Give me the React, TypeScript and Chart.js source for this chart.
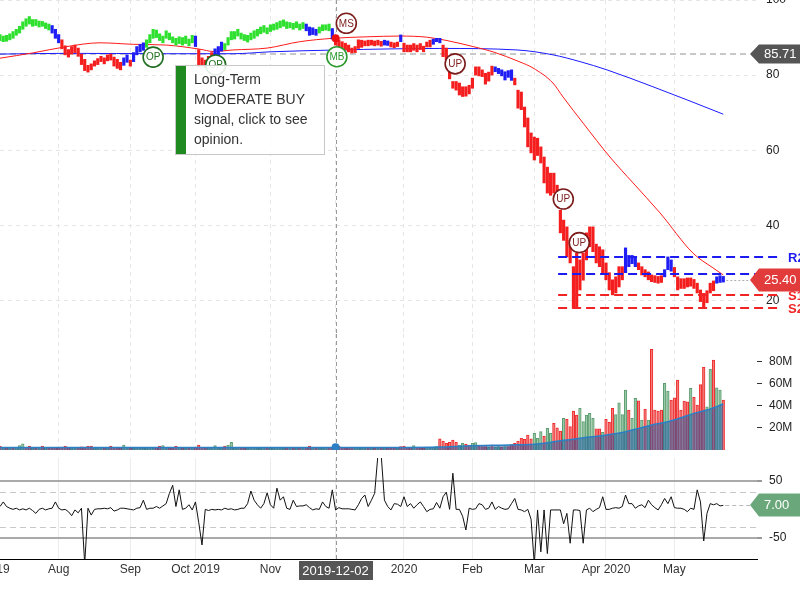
import React, { useEffect, useRef } from "react";
import { Chart, registerables } from "chart.js";

Chart.register(...registerables);

const FONT = '"Liberation Sans", Arial, Helvetica, sans-serif';

// ---------- x axis (trading-day index) ----------
const X_MIN = 0;
const X_MAX = 232.35;
const monthTicks = [-4, 18, 40, 60, 83, 103, 124, 145, 164, 186, 207];
const monthLabels = ["Jul 2019", "Aug", "Sep", "Oct 2019", "Nov", "Dec", "2020", "Feb", "Mar", "Apr 2020", "May"];

// ---------- price panel ----------
const priceTicks = [20, 40, 60, 80, 100];
const priceLow = [
  89.2, 88.9, 89.0, 89.4, 89.8, 90.6, 91.2, 92.2, 93.0, 93.6,
  93.0, 93.2, 92.8, 93.0, 92.4, 92.0, 91.2, 89.8, 88.6, 87.0,
  85.4, 84.8, 85.6, 86.0, 85.0, 82.8, 81.2, 80.8, 81.4, 82.4,
  82.8, 83.6, 83.0, 83.8, 84.0, 82.4, 81.8, 81.4, 82.6, 83.4,
  82.4, 83.6, 85.4, 86.2, 86.6, 87.4, 88.6, 89.8, 90.0, 89.2,
  88.6, 89.8, 89.4, 88.6, 88.0, 88.4, 88.0, 88.4, 87.8, 88.6,
  87.6, 82.2, 82.4, 82.0, 83.0, 84.2, 84.8, 85.4, 86.4, 86.8,
  88.0, 89.4, 89.6, 90.4, 89.6, 89.2, 88.8, 89.4, 89.8, 90.4,
  91.0, 91.4, 91.0, 91.6, 92.0, 92.2, 92.6, 93.0, 92.4, 92.6,
  92.2, 92.6, 92.0, 92.4, 91.8, 90.6, 90.8, 90.6, 91.2, 91.8,
  92.0, 91.8, 89.6, 88.0, 87.4, 87.1, 86.7, 86.2, 85.9, 86.0,
  87.1, 87.4, 87.8, 87.8, 88.0, 87.8, 88.0, 87.7, 88.0, 87.9,
  87.5, 87.3, 87.6, 88.9, 86.2, 86.2, 86.2, 86.6, 86.2, 86.8,
  86.2, 87.5, 87.5, 88.2, 88.9, 88.6, 84.9, 84.0, 79.0, 76.5,
  76.0, 74.7, 74.3, 74.4, 75.0, 76.5, 80.0, 79.8, 79.6, 77.6,
  78.4, 80.0, 80.9, 80.4, 79.8, 78.7, 79.4, 78.6, 77.4, 71.2,
  70.8, 66.2, 60.9, 59.3, 57.4, 58.6, 56.6, 51.3, 48.6, 48.0,
  48.6, 46.7, 38.0, 36.0, 31.6, 30.0, 18.0, 18.0, 22.8, 25.4,
  30.8, 34.3, 33.0, 30.0, 29.0, 27.4, 25.5, 22.8, 21.5, 22.0,
  23.6, 25.5, 27.4, 29.0, 29.8, 29.0, 28.2, 26.8, 26.3, 25.5,
  25.0, 24.8, 24.6, 24.8, 26.3, 28.2, 27.8, 26.3, 22.8, 23.2,
  23.2, 23.6, 23.8, 23.2, 22.0, 19.7, 18.0, 19.4, 22.0, 22.6,
  24.6, 24.8, 24.9,
];
const priceHigh = [
  90.8, 90.4, 90.6, 91.0, 91.6, 92.2, 93.0, 94.2, 95.0, 95.6,
  94.8, 94.8, 94.4, 94.3, 93.9, 93.6, 93.2, 92.2, 90.8, 89.4,
  87.8, 86.8, 87.6, 88.0, 87.2, 85.6, 84.2, 82.6, 83.0, 83.8,
  84.4, 85.0, 84.6, 85.4, 85.6, 84.8, 84.2, 83.4, 84.6, 85.4,
  84.0, 86.0, 87.6, 88.2, 88.6, 89.4, 90.8, 92.2, 92.0, 91.0,
  90.4, 91.8, 91.2, 90.2, 89.8, 90.2, 90.0, 90.4, 89.6, 90.6,
  90.4, 86.8, 84.6, 84.0, 85.0, 86.0, 87.0, 87.6, 88.8, 88.4,
  90.0, 91.6, 91.6, 92.2, 91.2, 90.8, 90.6, 91.2, 91.8, 92.2,
  92.8, 93.2, 92.6, 93.4, 93.6, 94.0, 94.4, 94.7, 94.2, 94.0,
  93.8, 94.2, 93.6, 94.0, 93.6, 92.8, 92.6, 92.2, 92.8, 93.4,
  93.4, 93.6, 92.4, 89.9, 89.4, 88.9, 88.5, 88.0, 87.2, 87.6,
  89.4, 89.3, 89.1, 89.3, 89.3, 89.1, 89.3, 89.0, 89.3, 89.1,
  88.8, 88.6, 88.8, 90.7, 88.5, 88.0, 88.0, 88.4, 88.0, 88.4,
  87.7, 88.8, 89.3, 89.6, 89.8, 89.8, 88.0, 87.2, 83.5, 78.3,
  78.3, 77.9, 76.9, 76.9, 77.3, 79.2, 82.2, 82.2, 81.4, 80.5,
  80.8, 82.4, 82.2, 81.8, 81.4, 80.9, 81.2, 81.4, 79.2, 76.0,
  75.5, 71.5, 68.6, 64.6, 63.5, 63.2, 60.9, 58.2, 55.5, 53.9,
  53.9, 50.7, 44.0, 41.4, 39.6, 36.0, 29.0, 32.6, 30.8, 32.6,
  38.0, 39.6, 39.6, 35.0, 34.3, 33.5, 30.0, 27.4, 25.5, 26.3,
  29.0, 29.0, 34.0, 32.0, 32.0, 31.6, 30.0, 29.0, 28.2, 27.6,
  26.8, 26.6, 26.4, 26.6, 28.2, 31.6, 30.8, 28.8, 26.3, 25.8,
  25.8, 26.0, 26.0, 25.6, 24.6, 22.8, 21.9, 22.6, 24.6, 25.2,
  26.3, 26.6, 26.4,
];
// runs of bar colour codes: G = bullish, B = neutral, R = bearish
const trendRuns: [number, string][] = [
  [16, "G"], [3, "B"], [19, "R"], [2, "B"], [1, "R"], [4, "B"], [15, "G"], [1, "B"], [5, "R"], [3, "B"],
  [25, "G"], [4, "B"], [4, "G"], [1, "B"], [15, "R"], [2, "B"], [3, "R"], [1, "B"], [9, "R"], [3, "B"],
  [16, "R"], [6, "B"], [34, "R"], [4, "B"], [8, "R"], [3, "B"], [13, "R"], [3, "B"],
];
const redMA: [number, number][] = [
  [0, 84.5], [10, 85.9], [20.5, 87.6], [30.7, 88.6], [41, 88.2], [51, 88.0], [61.4, 86.9], [65.4, 86.3],
  [71.5, 86.7], [82, 87.2], [92, 88.9], [102.2, 89.8], [112.6, 90.2], [122.8, 90.4], [131, 90.1],
  [137.2, 89.2], [145.2, 87.6], [151.3, 86.2], [159.6, 83.5], [163.6, 81.9], [169.7, 77.9], [172.8, 74.2],
  [179, 67.2], [187.2, 58.2], [194.3, 51.3], [202.6, 43.3], [212.7, 32.6], [218.8, 28.7], [222, 26.8],
];
const blueMA: [number, number][] = [
  [0, 85.6], [20.6, 85.8], [51, 85.7], [71.6, 85.7], [82.9, 86.2], [103.7, 86.7], [135, 87.1],
  [158.7, 86.7], [169.7, 85.4], [178, 83.6], [186.3, 81.4], [200.4, 76.9], [210.9, 73.4], [222, 69.6],
];
const refPrice = 85.71;
const lastPrice = 25.4;
const levelValues = [31.7, 27.0, 21.5, 17.9];
const levelNames = ["R2", "R1", "S1", "S2"];
const levelColors = ["#1c1cf0", "#1c1cf0", "#f02424", "#f02424"];
const levelStart = 171.3;
const levelEnd = 239.4;
const signalMarkers = [
  { i: 47, p: 84.8, text: "OP", color: "#1f6e1f" },
  { i: 66.2, p: 82.7, text: "OP", color: "#1f6e1f" },
  { i: 103.4, p: 84.9, text: "MB", color: "#2f9a2f" },
  { i: 106.3, p: 93.8, text: "MS", color: "#7b1c1c" },
  { i: 139.7, p: 83.0, text: "UP", color: "#7b1c1c" },
  { i: 172.9, p: 47.0, text: "UP", color: "#7b1c1c" },
  { i: 177.8, p: 35.4, text: "UP", color: "#7b1c1c" },
];
const crossIndex = 103;
const crossLabel = "2019-12-02";
const crossPrice = 89.8;
const crossVolume = 2.5;

// ---------- volume panel (millions) ----------
const volumeTicks = [20, 40, 60, 80];
const volume = [
  3.5, 2.0, 2.2, 1.8, 2.0, 2.3, 4.0, 5.5, 2.5, 3.5,
  2.0, 1.8, 2.2, 3.5, 2.0, 1.6, 2.0, 2.4, 2.2, 2.6,
  3.5, 2.5, 2.2, 2.0, 2.4, 2.8, 2.6, 3.5, 3.5, 2.2,
  2.0, 2.2, 1.8, 2.2, 3.5, 2.5, 2.2, 2.0, 4.5, 2.0,
  1.8, 2.0, 2.2, 1.8, 2.0, 2.2, 2.0, 1.8, 2.2, 3.5,
  4.0, 2.0, 2.2, 2.0, 3.5, 2.2, 2.0, 1.8, 2.0, 2.2,
  2.5, 4.5, 2.5, 2.0, 2.2, 2.0, 4.0, 2.0, 2.2, 3.5,
  4.5, 7.0, 2.5, 2.2, 2.0, 1.8, 2.0, 2.2, 2.0, 1.8,
  2.0, 2.2, 2.0, 1.8, 2.0, 2.2, 1.8, 2.0, 2.2, 2.0,
  1.8, 2.0, 2.2, 2.0, 2.2, 3.5, 2.2, 2.0, 1.8, 2.0,
  2.2, 2.0, 2.4, 2.6, 3.5, 2.2, 2.0, 2.4, 2.2, 2.0,
  2.2, 2.0, 1.8, 2.0, 2.2, 2.0, 1.8, 2.0, 2.2, 2.0,
  1.8, 1.6, 1.8, 3.0, 3.6, 2.5, 2.4, 4.0, 2.4, 2.0,
  1.8, 2.4, 1.8, 2.4, 3.0, 10.0, 8.0, 6.0, 7.0, 9.0,
  7.0, 4.5, 6.0, 5.0, 4.5, 6.0, 6.6, 4.0, 3.0, 3.0,
  2.5, 3.0, 2.5, 3.0, 2.5, 3.0, 3.0, 4.5, 6.0, 8.0,
  10.5, 9.6, 13.5, 10.0, 15.0, 10.5, 16.5, 12.6, 19.5, 15.0,
  24.0, 20.0, 17.0, 28.5, 27.6, 21.0, 35.0, 31.5, 37.5, 25.5,
  31.5, 33.0, 28.5, 19.0, 19.0, 16.0, 27.6, 25.0, 37.5, 32.0,
  42.6, 32.0, 54.0, 36.0, 28.5, 46.5, 44.4, 27.0, 36.6, 27.0,
  90.7, 36.0, 35.0, 36.0, 60.0, 53.0, 45.0, 47.0, 63.0, 36.0,
  44.0, 43.5, 55.5, 47.4, 40.5, 59.0, 74.5, 39.0, 73.0, 81.0,
  56.0, 54.0, 45.0,
];
const volumeDir = [
  "rgrgrgggrr", "grgrgrrrrr", "rrggrrrrrg", "ggrgrrrrgg", "rgggggggrr",
  "ggrrrgrgrg", "rrrrgggggr", "ggggrrgggg", "ggrgggggrg", "rgrgrrgrgg",
  "grrrrrrrrg", "gggrgrgrgr", "rrgrrrrgrr", "rggggrrrrr", "rggrrggrrr",
  "grggrgrrrr", "rrrrgggrgg", "rrrgrrrrgg", "gggrrgrrrg", "gggrggrgrg",
  "rrrrggrrrr", "rrgrrrrggr", "ggr",
].join("");
const volumeMA: [number, number][] = [
  [0, 2.2], [120, 2.2], [135, 2.6], [143, 3.6], [156, 4.5], [164, 5.1], [167, 6], [172, 8.4],
  [176, 9.6], [180, 11.4], [184, 12.6], [188, 14.4], [192, 16.5], [196, 19.5], [200, 22.5],
  [205, 25.5], [209, 29], [213, 33], [217, 36], [222, 41.4],
];

// ---------- oscillator panel ----------
const oscTicks = [-50, 50];
const oscBands = [-30, 30];
const oscillator = [
  5, 13, 5, 2, 0, 2, -1, 1, -1, 2,
  -2, -7, 0, 2, -1, 1, 2, 13, 2, -1,
  0, -4, -11, -1, -6, 2, -95, 2, -10, 0,
  1, 1, 2, 1, 3, -3, -1, 2, 2, 1,
  0, -1, 2, 3, 16, 0, 2, 2, 5, 2,
  6, 10, 28, 42, 5, 34, 0, 2, 8, -1,
  13, -23, -62, 0, -2, 0, -1, 0, -1, 2,
  0, 1, -1, 0, 2, 2, 10, 32, 16, 8,
  2, 10, 29, 8, 2, 37, 16, 22, 2, 0,
  16, 5, 6, 6, 8, 3, -1, 1, 0, 13,
  5, 2, 34, -1, 3, 1, 1, 1, 0, -1,
  8, 19, 25, 5, 16, 28, 95, 95, 16, 5,
  -1, 10, 9, 5, 22, 5, 10, 2, 8, 13,
  5, -4, 0, 1, 12, 2, 22, 30, 0, 63,
  0, 0, -12, -36, 2, 0, 1, 10, 8, 0,
  2, 13, 0, 5, 2, 0, 1, 10, 19, 0,
  -1, -4, 0, -17, -95, -1, -74, -1, -77, -1,
  -1, -1, -1, -25, -7, -59, -1, -1, -2, -59,
  -1, 2, -4, 0, 3, 22, 0, 0, 2, 3,
  2, 5, 25, 10, 10, 2, 6, 8, 3, 16,
  8, 3, -1, 8, 19, 10, 22, 3, 2, 2,
  0, -4, 2, 0, 34, 13, -55, -7, 10, 8,
  10, 6, 7,
];
const lastOsc = 7.0;

// ---------- layout constants ----------
const PRICE_H = 334;
const PRICE_MAX = 100;
const PRICE_MIN = 100 - PRICE_H / 3.756;
const VOL_H = 116;
const VOL_MAX = VOL_H / 1.11;
const OSC_TOP_PAD = 8;
const OSC_PLOT_H = 101;
const OSC_AXIS_H = 31;
const OSC_MAX = 89.5;
const OSC_MIN = OSC_MAX - OSC_PLOT_H / 0.574;
const TAG_X = 750;

const trendColor: Record<string, string> = { G: "#2fe02f", B: "#1e1ef5", R: "#f51e1e" };

function expandRuns(runs: [number, string][]) {
  const out: string[] = [];
  runs.forEach(([n, c]) => { for (let k = 0; k < n; k++) out.push(c); });
  return out;
}

function monthLabel(v: number) {
  const k = monthTicks.indexOf(v);
  return k >= 0 ? monthLabels[k] : "";
}

function xScale(show: boolean, gridColor: string, dash: number[]) {
  return {
    type: "linear",
    min: X_MIN,
    max: X_MAX,
    offset: false,
    afterBuildTicks: (s: any) => { s.ticks = monthTicks.map((v) => ({ value: v })); },
    afterFit: (s: any) => { s.paddingLeft = 0; s.paddingRight = 0; s.height = show ? OSC_AXIS_H : 0; },
    grid: { color: gridColor, drawTicks: false, offset: false },
    border: { display: show, color: "#000", width: 1, dash },
    ticks: {
      display: show, autoSkip: false, maxRotation: 0, minRotation: 0, padding: 3, color: "#333",
      font: { family: FONT, size: 12 }, callback: (v: any) => monthLabel(v),
    },
  };
}

function yFit(s: any) { s.width = 43; s.paddingTop = 0; s.paddingBottom = 0; }

function drawTag(ctx: CanvasRenderingContext2D, yc: number, h: number, text: string, bg: string) {
  ctx.save();
  ctx.setLineDash([]);
  ctx.fillStyle = bg;
  ctx.beginPath();
  ctx.moveTo(TAG_X, yc);
  ctx.lineTo(TAG_X + 9, yc - h / 2);
  ctx.lineTo(800, yc - h / 2);
  ctx.lineTo(800, yc + h / 2);
  ctx.lineTo(TAG_X + 9, yc + h / 2);
  ctx.closePath();
  ctx.fill();
  ctx.fillStyle = "#fff";
  ctx.font = `13px ${FONT}`;
  ctx.textAlign = "left";
  ctx.textBaseline = "middle";
  ctx.fillText(text, 764, yc + 0.5);
  ctx.restore();
}

function drawCross(chart: any, bottom: number) {
  const { ctx, scales } = chart;
  const cx = Math.round(scales.x.getPixelForValue(crossIndex)) + 0.5;
  ctx.save();
  ctx.strokeStyle = "#999";
  ctx.lineWidth = 1;
  ctx.setLineDash([4, 3]);
  ctx.beginPath();
  ctx.moveTo(cx, 0);
  ctx.lineTo(cx, bottom);
  ctx.stroke();
  ctx.restore();
}

const baseOptions = {
  responsive: false,
  maintainAspectRatio: false,
  animation: false,
  events: [],
  plugins: { legend: { display: false }, tooltip: { enabled: false } },
};

function makePrice(canvas: HTMLCanvasElement) {
  const trend = expandRuns(trendRuns);
  const plugin = {
    id: "priceDecor",
    beforeDatasetsDraw(chart: any) {
      const { ctx, chartArea, scales } = chart;
      const ry = Math.round(scales.y.getPixelForValue(refPrice));
      ctx.save();
      ctx.strokeStyle = "#c8c8c8";
      ctx.lineWidth = 2;
      ctx.setLineDash([6, 4]);
      ctx.beginPath();
      ctx.moveTo(chartArea.left, ry);
      ctx.lineTo(TAG_X, ry);
      ctx.stroke();
      ctx.restore();
      drawCross(chart, chart.height);
    },
    afterDatasetsDraw(chart: any) {
      const { ctx, scales } = chart;
      const { x, y } = scales;
      ctx.save();
      const ly = Math.round(y.getPixelForValue(lastPrice)) + 0.5;
      ctx.strokeStyle = "#b0b0b0";
      ctx.lineWidth = 1;
      ctx.setLineDash([2, 2]);
      ctx.beginPath();
      ctx.moveTo(x.getPixelForValue(priceLow.length - 1) + 3, ly);
      ctx.lineTo(TAG_X, ly);
      ctx.stroke();
      levelValues.forEach((v, k) => {
        const yy = Math.round(y.getPixelForValue(v));
        ctx.strokeStyle = levelColors[k];
        ctx.lineWidth = 2;
        ctx.setLineDash([9, 5]);
        ctx.beginPath();
        ctx.moveTo(x.getPixelForValue(levelStart), yy);
        ctx.lineTo(x.getPixelForValue(levelEnd), yy);
        ctx.stroke();
        ctx.fillStyle = levelColors[k];
        ctx.font = `bold 13px ${FONT}`;
        ctx.textAlign = "left";
        ctx.textBaseline = "middle";
        ctx.fillText(levelNames[k], 788, yy + 1);
      });
      ctx.setLineDash([]);
      signalMarkers.forEach((m) => {
        const px = x.getPixelForValue(m.i);
        const py = y.getPixelForValue(m.p);
        ctx.beginPath();
        ctx.arc(px, py, 10, 0, Math.PI * 2);
        ctx.fillStyle = "#fff";
        ctx.fill();
        ctx.lineWidth = 1.6;
        ctx.strokeStyle = m.color;
        ctx.stroke();
        ctx.fillStyle = m.color;
        ctx.font = `10px ${FONT}`;
        ctx.textAlign = "center";
        ctx.textBaseline = "middle";
        ctx.fillText(m.text, px, py + 0.5);
      });
      ctx.restore();
    },
    afterDraw(chart: any) {
      const { y } = chart.scales;
      drawTag(chart.ctx, Math.round(y.getPixelForValue(refPrice)), 19, refPrice.toFixed(2), "#555555");
      drawTag(chart.ctx, Math.round(y.getPixelForValue(lastPrice)), 23, lastPrice.toFixed(2), "#e23b3b");
    },
  };
  return new Chart(canvas, {
    type: "bar",
    data: {
      datasets: [
        {
          type: "bar",
          data: priceLow.map((lo, i) => ({ x: i, y: [lo, priceHigh[i]] })),
          backgroundColor: priceLow.map((_, i) => trendColor[trend[i]] || trendColor.R),
          borderWidth: 0,
          barThickness: 2.5,
          order: 1,
        },
        {
          type: "line",
          data: redMA.map(([i, v]) => ({ x: i, y: v })),
          borderColor: "#ff1a1a",
          borderWidth: 1,
          pointRadius: 0,
          cubicInterpolationMode: "monotone",
          order: 2,
        },
        {
          type: "line",
          data: blueMA.map(([i, v]) => ({ x: i, y: v })),
          borderColor: "#1a1aff",
          borderWidth: 1,
          pointRadius: 0,
          cubicInterpolationMode: "monotone",
          order: 3,
        },
        {
          type: "scatter",
          data: [{ x: crossIndex, y: crossPrice }],
          pointRadius: 4,
          pointBackgroundColor: "#ee1111",
          pointBorderWidth: 0,
          order: 0,
        },
      ],
    },
    options: {
      ...baseOptions,
      layout: { padding: 0, autoPadding: false },
      scales: {
        x: xScale(false, "#e6e6e6", [4, 4]),
        y: {
          type: "linear",
          position: "right",
          min: PRICE_MIN,
          max: PRICE_MAX,
          afterBuildTicks: (s: any) => { s.ticks = priceTicks.map((v) => ({ value: v })); },
          afterFit: yFit,
          grid: { color: "#e6e6e6", drawTicks: false },
          border: { display: false, dash: [4, 4] },
          ticks: { padding: 9, color: "#222", font: { family: FONT, size: 12 }, callback: (v: any) => String(v) },
        },
      },
    },
    plugins: [plugin],
  } as any);
}

function makeVolume(canvas: HTMLCanvasElement) {
  const plugin = {
    id: "volDecor",
    beforeDatasetsDraw(chart: any) { drawCross(chart, chart.height); },
  };
  return new Chart(canvas, {
    type: "bar",
    data: {
      datasets: [
        {
          type: "bar",
          data: volume.map((v, i) => ({ x: i, y: v })),
          backgroundColor: volume.map((_, i) => (volumeDir[i] === "g" ? "#9acaa8" : "#f27c7c")),
          borderColor: volume.map((_, i) => (volumeDir[i] === "g" ? "#5c9c70" : "#ee2c2c")),
          borderWidth: 1,
          barThickness: 2.6,
          order: 2,
        },
        {
          type: "line",
          data: volumeMA.map(([i, v]) => ({ x: i, y: v })),
          borderColor: "#2c7fc4",
          borderWidth: 1.5,
          backgroundColor: "rgba(35,95,165,0.55)",
          fill: "origin",
          pointRadius: 0,
          cubicInterpolationMode: "monotone",
          order: 1,
        },
        {
          type: "scatter",
          data: [{ x: crossIndex, y: crossVolume }],
          pointRadius: 4,
          pointBackgroundColor: "#2c7fc4",
          pointBorderWidth: 0,
          order: 0,
        },
      ],
    },
    options: {
      ...baseOptions,
      layout: { padding: 0, autoPadding: false },
      scales: {
        x: xScale(false, "#e6e6e6", [4, 4]),
        y: {
          type: "linear",
          position: "right",
          min: 0,
          max: VOL_MAX,
          afterBuildTicks: (s: any) => { s.ticks = volumeTicks.map((v) => ({ value: v })); },
          afterFit: yFit,
          grid: { drawOnChartArea: false, drawTicks: true, tickLength: 5, tickColor: "#333", tickWidth: 1 },
          border: { display: false },
          ticks: { padding: 7, color: "#222", font: { family: FONT, size: 12 }, callback: (v: any) => `${v}M` },
        },
      },
    },
    plugins: [plugin],
  } as any);
}

function makeOsc(canvas: HTMLCanvasElement) {
  const plugin = {
    id: "oscDecor",
    beforeDatasetsDraw(chart: any) {
      const { ctx, chartArea, scales } = chart;
      ctx.save();
      ctx.strokeStyle = "#c8c8c8";
      ctx.lineWidth = 1;
      ctx.setLineDash([6, 4]);
      oscBands.forEach((v) => {
        const yy = Math.round(scales.y.getPixelForValue(v)) + 0.5;
        ctx.beginPath();
        ctx.moveTo(chartArea.left, yy);
        ctx.lineTo(chartArea.right, yy);
        ctx.stroke();
      });
      ctx.restore();
      drawCross(chart, chartArea.bottom);
    },
    afterDatasetsDraw(chart: any) {
      const { ctx, scales } = chart;
      const yy = Math.round(scales.y.getPixelForValue(lastOsc)) + 0.5;
      ctx.save();
      ctx.strokeStyle = "#b8b8b8";
      ctx.lineWidth = 1;
      ctx.setLineDash([4, 3]);
      ctx.beginPath();
      ctx.moveTo(scales.x.getPixelForValue(oscillator.length - 1) + 2, yy);
      ctx.lineTo(TAG_X, yy);
      ctx.stroke();
      ctx.restore();
    },
    afterDraw(chart: any) {
      const { ctx, chartArea, scales } = chart;
      drawTag(ctx, Math.round(scales.y.getPixelForValue(lastOsc)), 23, lastOsc.toFixed(2), "#6aa77b");
      const cx = scales.x.getPixelForValue(crossIndex);
      ctx.save();
      ctx.fillStyle = "#555555";
      ctx.fillRect(Math.round(cx - 37), chartArea.bottom + 2, 74, 19);
      ctx.fillStyle = "#fff";
      ctx.font = `13px ${FONT}`;
      ctx.textAlign = "center";
      ctx.textBaseline = "middle";
      ctx.fillText(crossLabel, cx, chartArea.bottom + 12);
      ctx.restore();
    },
  };
  return new Chart(canvas, {
    type: "line",
    data: {
      datasets: [
        {
          data: oscillator.map((v, i) => ({ x: i, y: v })),
          borderColor: "#111",
          borderWidth: 1,
          pointRadius: 0,
          tension: 0,
        },
      ],
    },
    options: {
      ...baseOptions,
      layout: { padding: { top: OSC_TOP_PAD, left: 0, right: 0, bottom: 0 }, autoPadding: false },
      scales: {
        x: xScale(true, "#ececec", []),
        y: {
          type: "linear",
          position: "right",
          min: OSC_MIN,
          max: OSC_MAX,
          afterBuildTicks: (s: any) => { s.ticks = oscTicks.map((v) => ({ value: v })); },
          afterFit: yFit,
          grid: { color: "#aaaaaa", lineWidth: 2, drawTicks: true, tickLength: 5, tickColor: "#333", tickWidth: 1 },
          border: { display: false },
          ticks: { padding: 7, color: "#222", font: { family: FONT, size: 12 }, callback: (v: any) => String(v) },
        },
      },
    },
    plugins: [plugin],
  } as any);
}

export default function App() {
  const priceRef = useRef<HTMLCanvasElement>(null);
  const volRef = useRef<HTMLCanvasElement>(null);
  const oscRef = useRef<HTMLCanvasElement>(null);

  useEffect(() => {
    const charts: any[] = [
      makePrice(priceRef.current!),
      makeVolume(volRef.current!),
      makeOsc(oscRef.current!),
    ];
    return () => charts.forEach((c) => c && c.destroy());
  }, []);

  return (
    <div style={{ position: "fixed", left: 0, top: 0, width: 800, height: 600, background: "#fff", overflow: "hidden" }}>
      <canvas ref={priceRef} width={800} height={PRICE_H} style={{ position: "absolute", left: 0, top: 0 }} />
      <canvas ref={volRef} width={800} height={VOL_H} style={{ position: "absolute", left: 0, top: PRICE_H }} />
      <canvas ref={oscRef} width={800} height={OSC_TOP_PAD + OSC_PLOT_H + OSC_AXIS_H} style={{ position: "absolute", left: 0, top: PRICE_H + VOL_H }} />
      <div
        style={{
          position: "absolute", left: 175, top: 65, width: 150, height: 90, boxSizing: "border-box",
          background: "rgba(255,255,255,0.88)", border: "1px solid #c8c8c8",
        }}
      >
        <div style={{ position: "absolute", left: 0, top: 0, bottom: 0, width: 10, background: "#1f8a1f" }} />
        <div style={{ position: "absolute", left: 18, top: 3, fontFamily: FONT, fontSize: 14, lineHeight: "20px", color: "#333", whiteSpace: "nowrap" }}>
          Long-Term<br />MODERATE BUY<br />signal, click to see<br />opinion.
        </div>
      </div>
    </div>
  );
}
